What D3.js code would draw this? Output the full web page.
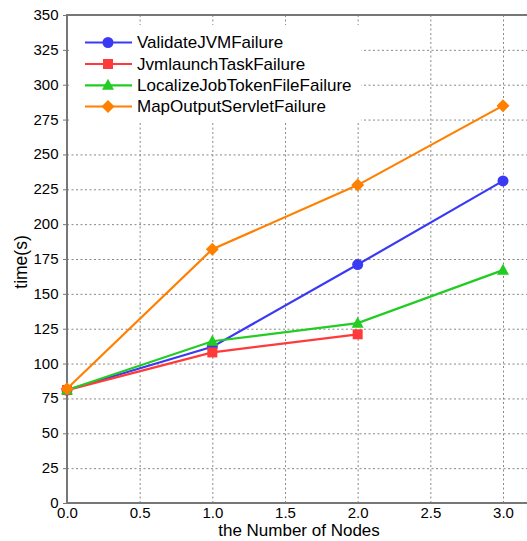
<!DOCTYPE html>
<html><head><meta charset="utf-8">
<script src="https://cdn.jsdelivr.net/npm/d3@7"></script>
<style>body{margin:0;background:#fff}svg{display:block;font-family:"Liberation Sans",Arial,sans-serif}</style>
</head><body><svg id="c" width="527" height="541"></svg>
<script>
const seriesNames = ["ValidateJVMFailure","JvmlaunchTaskFailure","LocalizeJobTokenFileFailure","MapOutputServletFailure"];
const seriesColors = ["#3a3af5","#ff3a3a","#22cc22","#ff8000"];
const seriesMarkers = ["circle","square","triangle","diamond"];
const nodesValidate = [0,1,2,3];
const timeValidate = [81,112,171,231];
const nodesJvm = [0,1,2];
const timeJvm = [81,108,121];
const nodesLocalize = [0,1,2,3];
const timeLocalize = [81,116,129,167];
const nodesMapOutput = [0,1,2,3];
const timeMapOutput = [82,182,228,285];
const xTicks = [0,0.5,1,1.5,2,2.5,3];
const yTicks = [0,25,50,75,100,125,150,175,200,225,250,275,300,325,350];

const series = [
  {name:seriesNames[0], x:nodesValidate, y:timeValidate},
  {name:seriesNames[1], x:nodesJvm, y:timeJvm},
  {name:seriesNames[2], x:nodesLocalize, y:timeLocalize},
  {name:seriesNames[3], x:nodesMapOutput, y:timeMapOutput}
];

const svg = d3.select("#c");
const L=67, T=15, B=503, R=503;
const x = d3.scaleLinear().domain([0,3]).range([L,R]);
const y = d3.scaleLinear().domain([0,350]).range([B,T]);

// grid
const grid = svg.append("g").attr("stroke","#888").attr("stroke-width",1).attr("stroke-dasharray","2,2.5");
grid.selectAll(".gx").data(xTicks.filter(d=>d>0)).enter().append("line")
  .attr("x1",d=>x(d)+0.5).attr("x2",d=>x(d)+0.5).attr("y1",T).attr("y2",B);
grid.selectAll(".gy").data(yTicks.filter(d=>d>0&&d<350)).enter().append("line")
  .attr("x1",L).attr("x2",527).attr("y1",d=>y(d)+0.5).attr("y2",d=>y(d)+0.5);

// legend background
svg.append("rect").attr("x",69).attr("y",25).attr("width",292).attr("height",97).attr("fill","#fff");

// axes
const yAxis = svg.append("g").attr("transform",`translate(${L},0)`)
  .call(d3.axisLeft(y).tickValues(yTicks).tickSize(4).tickPadding(4.5).tickFormat(d3.format("d")));
const xAxis = svg.append("g").attr("transform",`translate(0,${B})`)
  .call(d3.axisBottom(x).tickValues(xTicks).tickSize(0).tickPadding(6).tickFormat(d3.format(".1f")));
[yAxis,xAxis].forEach(a=>{
  a.select(".domain").remove();
  a.selectAll(".tick line").attr("stroke","#777");
  a.selectAll("text").attr("font-size","15px").attr("fill","#000").attr("font-family","Liberation Sans, Arial, sans-serif");
});
yAxis.selectAll("text").attr("dy","0.3em");
xAxis.selectAll("text").attr("dy","0.6em");
// frame
const fr = svg.append("g").attr("stroke","#777").attr("stroke-width",2).attr("fill","none");
fr.append("line").attr("x1",L).attr("x2",L).attr("y1",T).attr("y2",B+1);
fr.append("line").attr("x1",L-1).attr("x2",527).attr("y1",B).attr("y2",B);
fr.append("line").attr("x1",L-1).attr("x2",527).attr("y1",T).attr("y2",T);

function marker(g, type, cx, cy, color){
  if(type==="circle") g.append("circle").attr("cx",cx).attr("cy",cy).attr("r",5.5).attr("fill",color);
  else if(type==="square") g.append("rect").attr("x",cx-5).attr("y",cy-5).attr("width",10).attr("height",10).attr("fill",color);
  else if(type==="triangle") g.append("path").attr("d",`M${cx},${cy-6.5}L${cx+6},${cy+4.5}L${cx-6},${cy+4.5}Z`).attr("fill",color);
  else g.append("path").attr("d",`M${cx},${cy-6.5}L${cx+6.5},${cy}L${cx},${cy+6.5}L${cx-6.5},${cy}Z`).attr("fill",color);
}

const line = d3.line().x(d=>x(d[0])).y(d=>y(d[1]));
series.forEach((s,i)=>{
  const pts = s.x.map((v,j)=>[v,s.y[j]]);
  const g = svg.append("g");
  g.append("path").datum(pts).attr("d",line).attr("fill","none").attr("stroke",seriesColors[i]).attr("stroke-width",2.2);
  pts.forEach(p=>marker(g, seriesMarkers[i], x(p[0]), y(p[1]), seriesColors[i]));
});

// legend
const legY = [42.5,64,85.3,106.5];
series.forEach((s,i)=>{
  const g = svg.append("g");
  g.append("line").attr("x1",85).attr("x2",132).attr("y1",legY[i]).attr("y2",legY[i]).attr("stroke",seriesColors[i]).attr("stroke-width",2.2);
  marker(g, seriesMarkers[i], 108, legY[i], seriesColors[i]);
  g.append("text").attr("x",137).attr("y",legY[i]).attr("dy","0.33em").attr("font-size","17px").text(s.name);
});

// axis titles
svg.append("text").attr("x",299).attr("y",536).attr("text-anchor","middle").attr("font-size","17px").text("the Number of Nodes");
svg.append("text").attr("transform","translate(27,262) rotate(-90)").attr("text-anchor","middle").attr("font-size","17.5px").text("time(s)");
</script></body></html>
